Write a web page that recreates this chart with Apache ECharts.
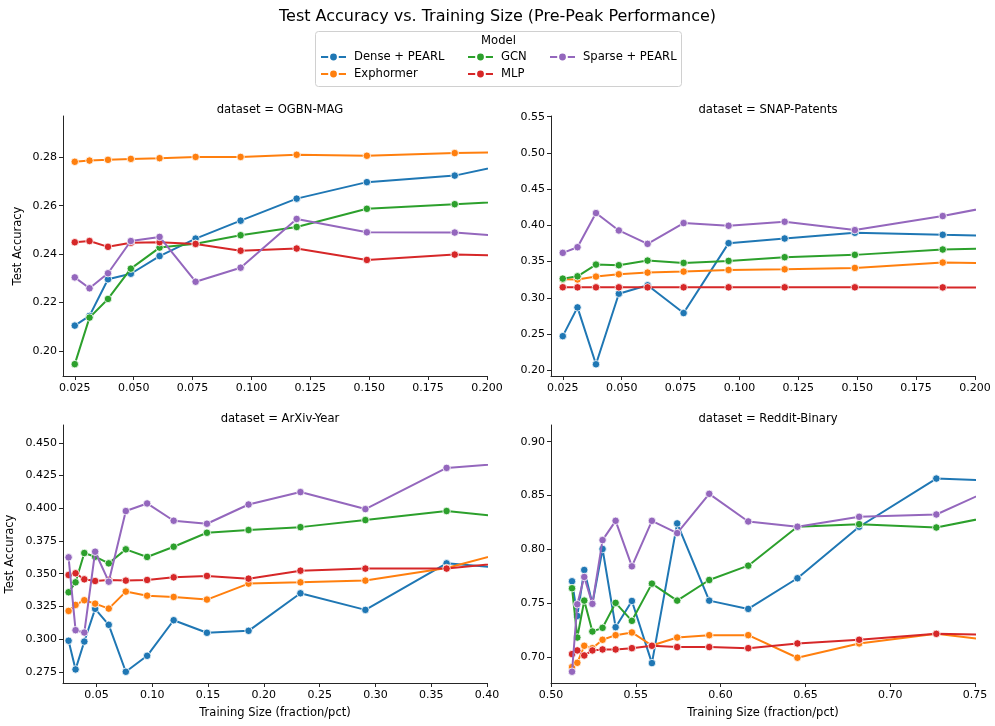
<!DOCTYPE html>
<html><head><meta charset="utf-8">
<script src="https://cdn.jsdelivr.net/npm/echarts@6/dist/echarts.min.js"></script>
<style>html,body{margin:0;padding:0;background:#fff}#c{width:995px;height:726px}</style>
</head><body><div id="c"></div>
<script>
const MODELS = ['Dense + PEARL', 'Exphormer', 'GCN', 'MLP', 'Sparse + PEARL'];
const COLORS = ['#1f77b4', '#ff7f0e', '#2ca02c', '#d62728', '#9467bd'];
const DATASETS = ['OGBN-MAG', 'SNAP-Patents', 'ArXiv-Year', 'Reddit-Binary'];

// training sizes (x)
const X_SMALL = [0.025, 0.03125, 0.0391, 0.0488, 0.061, 0.0763, 0.0954, 0.1192, 0.149, 0.1863, 0.2328];
const X_ARXIV = [0.025, 0.03125, 0.0391, 0.0488, 0.061, 0.0763, 0.0954, 0.1192, 0.149, 0.1863, 0.2328, 0.291, 0.3638, 0.4547];
const X_REDDIT = [0.5124, 0.5155, 0.5196, 0.5244, 0.5304, 0.5381, 0.5477, 0.5595, 0.5744, 0.5933, 0.6163, 0.6453, 0.6817, 0.7272, 0.784];

// OGBN-MAG
const MAG_DENSE = [0.2105, 0.2145, 0.2296, 0.2319, 0.2392, 0.2464, 0.2538, 0.2629, 0.2697, 0.2724, 0.2821];
const MAG_EXPH = [0.2781, 0.2786, 0.2789, 0.2793, 0.2796, 0.2801, 0.2801, 0.2810, 0.2806, 0.2817, 0.2824];
const MAG_GCN = [0.1946, 0.2138, 0.2215, 0.2340, 0.2427, 0.2443, 0.2478, 0.2512, 0.2587, 0.2606, 0.2629];
const MAG_MLP = [0.2449, 0.2454, 0.2430, 0.2447, 0.2449, 0.2442, 0.2414, 0.2423, 0.2376, 0.2398, 0.2388];
const MAG_SPARSE = [0.2304, 0.2259, 0.2321, 0.2454, 0.2471, 0.2286, 0.2344, 0.2545, 0.2490, 0.2489, 0.2455];

// SNAP-Patents
const SNAP_DENSE = [0.2471, 0.2868, 0.2083, 0.3057, 0.3173, 0.2790, 0.3755, 0.3819, 0.3898, 0.3870, 0.3840];
const SNAP_EXPH = [0.3255, 0.3254, 0.3293, 0.3325, 0.3348, 0.3362, 0.3385, 0.3394, 0.3413, 0.3487, 0.3470];
const SNAP_GCN = [0.3265, 0.3297, 0.3459, 0.3450, 0.3514, 0.3482, 0.3510, 0.3561, 0.3593, 0.3667, 0.3697];
const SNAP_MLP = [0.3146, 0.3145, 0.3145, 0.3145, 0.3145, 0.3145, 0.3145, 0.3145, 0.3145, 0.3144, 0.3143];
const SNAP_SPARSE = [0.3621, 0.3699, 0.4170, 0.3930, 0.3745, 0.4032, 0.3995, 0.4050, 0.3935, 0.4129, 0.4421];

// ArXiv-Year
const ARX_DENSE = [0.2987, 0.2768, 0.2981, 0.3231, 0.3109, 0.2750, 0.2872, 0.3144, 0.3048, 0.3063, 0.3350, 0.3223, 0.3579, 0.3516];
const ARX_EXPH = [0.3215, 0.3261, 0.3297, 0.3271, 0.3233, 0.3363, 0.3332, 0.3322, 0.3302, 0.3424, 0.3434, 0.3447, 0.3543, 0.3750];
const ARX_GCN = [0.3358, 0.3434, 0.3658, 0.3630, 0.3579, 0.3686, 0.3628, 0.3706, 0.3813, 0.3834, 0.3856, 0.3910, 0.3979, 0.3901];
const ARX_MLP = [0.3490, 0.3503, 0.3457, 0.3444, 0.3452, 0.3447, 0.3452, 0.3472, 0.3483, 0.3462, 0.3523, 0.3539, 0.3539, 0.3615];
const ARX_SPARSE = [0.3625, 0.3068, 0.3050, 0.3668, 0.3439, 0.3979, 0.4037, 0.3905, 0.3882, 0.4029, 0.4124, 0.3994, 0.4309, 0.4367];

// Reddit-Binary
const RED_DENSE = [0.7702, 0.7380, 0.7807, 0.7492, 0.8002, 0.7275, 0.7519, 0.6941, 0.8240, 0.7522, 0.7445, 0.7730, 0.8209, 0.8657, 0.8627];
const RED_EXPH = [0.6904, 0.6944, 0.7102, 0.7080, 0.7158, 0.7201, 0.7226, 0.7105, 0.7179, 0.7201, 0.7201, 0.6991, 0.7124, 0.7213, 0.7106];
const RED_GCN = [0.7637, 0.7179, 0.7522, 0.7235, 0.7269, 0.7501, 0.7334, 0.7680, 0.7522, 0.7714, 0.7847, 0.8209, 0.8233, 0.8202, 0.8380];
const RED_MLP = [0.7025, 0.7059, 0.7012, 0.7059, 0.7068, 0.7068, 0.7080, 0.7102, 0.7090, 0.7090, 0.7080, 0.7124, 0.7158, 0.7213, 0.7198];
const RED_SPARSE = [0.6861, 0.7488, 0.7742, 0.7492, 0.8085, 0.8264, 0.7841, 0.8264, 0.8150, 0.8515, 0.8258, 0.8209, 0.8301, 0.8323, 0.8729];

// tick values
const X_TICKS_TOP = [0.025, 0.05, 0.075, 0.1, 0.125, 0.15, 0.175, 0.2];
const X_TICKS_ARXIV = [0.05, 0.1, 0.15, 0.2, 0.25, 0.3, 0.35, 0.4];
const X_TICKS_REDDIT = [0.5, 0.55, 0.6, 0.65, 0.7, 0.75];
const Y_TICKS_MAG = [0.20, 0.22, 0.24, 0.26, 0.28];
const Y_TICKS_SNAP = [0.20, 0.25, 0.30, 0.35, 0.40, 0.45, 0.50, 0.55];
const Y_TICKS_ARXIV = [0.275, 0.3, 0.325, 0.35, 0.375, 0.4, 0.425, 0.45];
const Y_TICKS_REDDIT = [0.70, 0.75, 0.80, 0.85, 0.90];

const panels = [
  { x: X_SMALL, ys: [MAG_DENSE, MAG_EXPH, MAG_GCN, MAG_MLP, MAG_SPARSE],
    grid: { left: 63, top: 116, width: 424, height: 260 },
    xr: [0.02, 0.2], yr: [0.1897, 0.297], xt: X_TICKS_TOP, xd: 3, yt: Y_TICKS_MAG, yd: 2,
    yname: 'Test Accuracy', ygap: 39, xname: '' },
  { x: X_SMALL, ys: [SNAP_DENSE, SNAP_EXPH, SNAP_GCN, SNAP_MLP, SNAP_SPARSE],
    grid: { left: 551, top: 116, width: 424, height: 260 },
    xr: [0.02, 0.2], yr: [0.1921, 0.551], xt: X_TICKS_TOP, xd: 3, yt: Y_TICKS_SNAP, yd: 2,
    yname: '', xname: '' },
  { x: X_ARXIV, ys: [ARX_DENSE, ARX_EXPH, ARX_GCN, ARX_MLP, ARX_SPARSE],
    grid: { left: 63, top: 425, width: 424, height: 258 },
    xr: [0.02, 0.4], yr: [0.2664, 0.4637], xt: X_TICKS_ARXIV, xd: 2, yt: Y_TICKS_ARXIV, yd: 3,
    yname: 'Test Accuracy', ygap: 47, xname: 'Training Size (fraction/pct)' },
  { x: X_REDDIT, ys: [RED_DENSE, RED_EXPH, RED_GCN, RED_MLP, RED_SPARSE],
    grid: { left: 551, top: 425, width: 424, height: 258 },
    xr: [0.5, 0.75], yr: [0.6756, 0.9155], xt: X_TICKS_REDDIT, xd: 2, yt: Y_TICKS_REDDIT, yd: 2,
    yname: '', xname: 'Training Size (fraction/pct)' }
];

const AX = '#262626';
const FONT = 'DejaVu Sans';

const grids = [], xAxes = [], yAxes = [], series = [], titles = [];
titles.push({ text: 'Test Accuracy vs. Training Size (Pre-Peak Performance)', left: 'center', top: 4,
  textStyle: { fontFamily: FONT, fontSize: 16, fontWeight: 'normal', color: '#000' } });

panels.forEach((p, i) => {
  grids.push(Object.assign({ containLabel: false }, p.grid));
  titles.push({ text: 'dataset = ' + DATASETS[i], left: p.grid.left + p.grid.width / 2, top: p.grid.top - 17,
    textAlign: 'center',
    textStyle: { fontFamily: FONT, fontSize: 11.6, fontWeight: 'normal', color: '#000' } });
  xAxes.push({
    type: 'value', gridIndex: i, min: p.xr[0], max: p.xr[1],
    name: p.xname, nameLocation: 'middle', nameGap: 24,
    nameTextStyle: { fontFamily: FONT, fontSize: 11.5, color: '#000' },
    axisLine: { show: true, onZero: false, lineStyle: { color: AX, width: 1 } },
    axisTick: { show: true, length: 4, lineStyle: { color: AX }, customValues: p.xt },
    axisLabel: { show: true, margin: 7, fontFamily: FONT, fontSize: 11, color: '#000',
      customValues: p.xt, formatter: v => v.toFixed(p.xd) },
    splitLine: { show: false }
  });
  yAxes.push({
    type: 'value', gridIndex: i, min: p.yr[0], max: p.yr[1],
    name: p.yname, nameLocation: 'middle', nameGap: p.ygap || 40, nameRotate: 90,
    nameTextStyle: { fontFamily: FONT, fontSize: 11.5, color: '#000' },
    axisLine: { show: true, onZero: false, lineStyle: { color: AX, width: 1 } },
    axisTick: { show: true, length: 4, lineStyle: { color: AX }, customValues: p.yt },
    axisLabel: { show: true, margin: 6, fontFamily: FONT, fontSize: 11, color: '#000',
      customValues: p.yt, formatter: v => v.toFixed(p.yd) },
    splitLine: { show: false }
  });
  MODELS.forEach((m, k) => {
    series.push({
      type: 'line', name: m, xAxisIndex: i, yAxisIndex: i,
      data: p.x.map((xv, j) => [xv, p.ys[k][j]]),
      symbol: 'circle', symbolSize: 7.5, clip: true,
      lineStyle: { color: COLORS[k], width: 2 },
      itemStyle: { color: COLORS[k], borderColor: '#fff', borderWidth: 0.8 },
      emphasis: { disabled: true }, animation: false, z: 2 + k
    });
  });
});

// legend: one component per item to place them in matplotlib-like columns
const legendPos = [
  [320, 51], [320, 68], [467, 51], [467, 68], [549, 51]
];
const legends = MODELS.map((m, k) => ({
  data: [m], left: legendPos[k][0], top: legendPos[k][1], orient: 'horizontal',
  itemWidth: 25, itemHeight: 11, itemGap: 0, padding: 0,
  textStyle: { fontFamily: FONT, fontSize: 11.6, color: '#000', padding: [0, 0, 0, 3] },
  selectedMode: false
}));

const option = {
  backgroundColor: '#fff',
  animation: false,
  color: COLORS,
  title: titles,
  legend: legends,
  grid: grids, xAxis: xAxes, yAxis: yAxes, series: series,
  graphic: [
    { type: 'rect', shape: { x: 315.5, y: 31.5, width: 366, height: 55, r: 3 },
      style: { fill: '#fff', stroke: '#d0d0d0', lineWidth: 1 }, z: -1 },
    { type: 'text', x: 498.5, y: 41, style: { text: 'Model', fontFamily: FONT, fontSize: 11.6,
      fill: '#000', align: 'center', verticalAlign: 'middle' } }
  ]
};

const chart = echarts.init(document.getElementById('c'), null, { renderer: 'canvas' });
chart.setOption(option);
</script>
</body></html>
